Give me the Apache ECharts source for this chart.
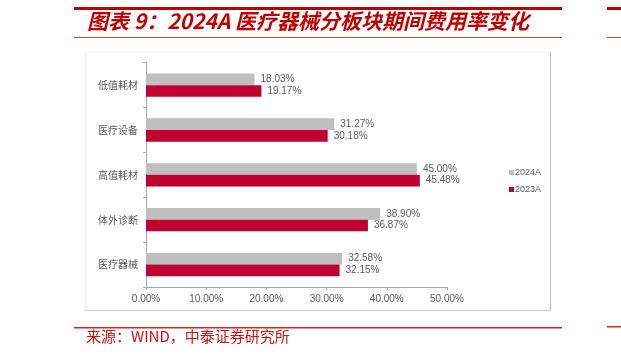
<!DOCTYPE html>
<html><head><meta charset="utf-8">
<script src="https://cdn.jsdelivr.net/npm/echarts@6/dist/echarts.min.js"></script>
<style>html,body{margin:0;padding:0;background:#fff}#c{width:621px;height:357px}</style>
</head><body><div id="c"></div>
<script>
const categories = ['低值耗材', '医疗设备', '高值耗材', '体外诊断', '医疗器械'];
const series2024 = [18.03, 31.27, 45.00, 38.90, 32.58];
const series2023 = [19.17, 30.18, 45.48, 36.87, 32.15];
const seriesNames = ['2024A', '2023A'];
const xTicks = [0, 10, 20, 30, 40, 50];
const titleText = '图表 9：2024A 医疗器械分板块期间费用率变化';
const sourceText = '来源：WIND，中泰证券研究所';

const RED = '#C00000';
const chart = echarts.init(document.getElementById('c'), null, {renderer: 'canvas'});
const labelStyle = {show: true, position: 'right', distance: 6, fontSize: 10, color: '#595959',
  fontFamily: 'Liberation Sans, Arial', formatter: p => p.value.toFixed(2) + '%'};
chart.setOption({
  animation: false,
  textStyle: {fontFamily: 'Noto Sans CJK SC'},
  graphic: [
    {type: 'rect', shape: {x: 74, y: 7, width: 488, height: 3}, style: {fill: RED}},
    {type: 'rect', shape: {x: 607, y: 7, width: 14, height: 3}, style: {fill: RED}},
    {type: 'text', left: 87, top: 11, style: {text: titleText, fill: RED,
      font: 'italic bold 21px "Noto Sans CJK SC"'}},
    {type: 'rect', shape: {x: 74, y: 37, width: 488, height: 1}, style: {fill: '#D04040'}},
    {type: 'rect', shape: {x: 607, y: 37, width: 14, height: 1}, style: {fill: '#D04040'}},
    {type: 'line', shape: {x1: 85.5, y1: 52, x2: 550.5, y2: 52}, style: {stroke: '#F0F0F0', lineWidth: 1}},
    {type: 'line', shape: {x1: 85.5, y1: 52, x2: 85.5, y2: 310}, style: {stroke: '#EEEEEE', lineWidth: 1}},
    {type: 'line', shape: {x1: 550.5, y1: 52, x2: 550.5, y2: 310}, style: {stroke: '#BFBFBF', lineWidth: 1}},
    {type: 'line', shape: {x1: 85.5, y1: 310.5, x2: 550.5, y2: 310.5}, style: {stroke: '#C8C8C8', lineWidth: 1}},
    {type: 'rect', shape: {x: 74, y: 327, width: 488, height: 1.5}, style: {fill: '#E02020'}},
    {type: 'rect', shape: {x: 607, y: 326, width: 14, height: 1.5}, style: {fill: '#E02020'}},
    {type: 'text', left: 86, top: 329, style: {text: sourceText, fill: '#D01010',
      font: '15px "Noto Sans CJK SC"'}}
  ],
  legend: {
    orient: 'vertical', left: 504, top: 163, itemWidth: 5, itemHeight: 5, itemGap: 8,
    icon: 'rect', data: seriesNames,
    textStyle: {fontSize: 9, color: '#595959', padding: [0, 0, 0, -4], fontFamily: 'Liberation Sans, Arial'}
  },
  grid: {left: 146, right: 174, top: 62.7, bottom: 70, containLabel: false},
  xAxis: {
    type: 'value', min: xTicks[0], max: xTicks[xTicks.length - 1], interval: 10,
    axisLine: {show: true, lineStyle: {color: '#A6A6A6'}},
    axisTick: {show: true, length: 3, lineStyle: {color: '#A6A6A6'}},
    splitLine: {show: false},
    axisLabel: {formatter: v => v.toFixed(2) + '%', fontSize: 10, color: '#595959', margin: 7,
      fontFamily: 'Liberation Sans, Arial'}
  },
  yAxis: {
    type: 'category', data: categories, inverse: true,
    axisLine: {show: true, lineStyle: {color: '#A6A6A6'}},
    axisTick: {show: true, length: 3, lineStyle: {color: '#A6A6A6'}},
    axisLabel: {fontSize: 10, color: '#595959', margin: 8}
  },
  series: [
    {name: seriesNames[0], type: 'bar', data: series2024, barGap: '0%', barCategoryGap: '48%',
      itemStyle: {color: '#BFBFBF'}, label: labelStyle},
    {name: seriesNames[1], type: 'bar', data: series2023, barGap: '0%', barCategoryGap: '48%',
      itemStyle: {color: '#C00030'}, label: labelStyle}
  ]
});
</script></body></html>
